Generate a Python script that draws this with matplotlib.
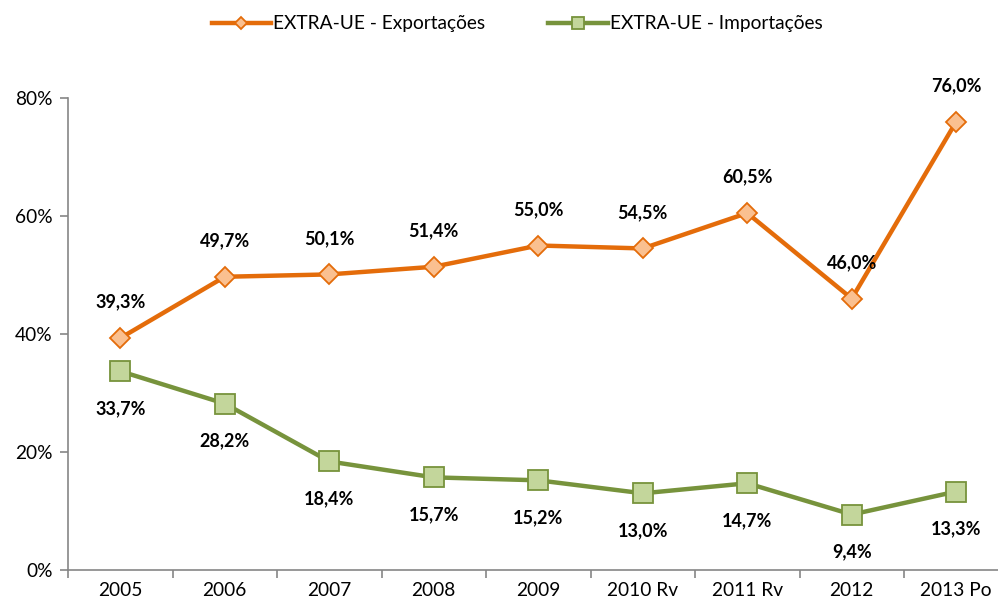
import matplotlib.pyplot as plt
from matplotlib.ticker import FixedLocator, FuncFormatter

anos = ["2005", "2006", "2007", "2008", "2009", "2010 Rv", "2011 Rv", "2012", "2013 Po"]
exportacoes = [39.3, 49.7, 50.1, 51.4, 55.0, 54.5, 60.5, 46.0, 76.0]
importacoes = [33.7, 28.2, 18.4, 15.7, 15.2, 13.0, 14.7, 9.4, 13.3]

plt.rcParams['font.family'] = ['Lato', 'DejaVu Sans']

W, H = 998, 606
fig = plt.figure(figsize=(W / 100, H / 100), dpi=100)
ax = fig.add_axes([68 / W, 36 / H, 940.5 / W, 472 / H])

x = list(range(len(anos)))
ax.plot(x, exportacoes, color='#E46C0A', lw=3.2, marker='D', ms=10,
        mfc='#FAC090', mec='#E46C0A', mew=1.3, label='EXTRA-UE - Exportações', zorder=3)
ax.plot(x, importacoes, color='#77933C', lw=3.2, marker='s', ms=14,
        mfc='#C3D69B', mec='#77933C', mew=1.3, label='EXTRA-UE - Importações', zorder=3)

for i, v in enumerate(exportacoes):
    ax.annotate(f"{v:.1f}%".replace('.', ','), (i, v), xytext=(0, 26), textcoords='offset points',
                ha='center', va='center', fontsize=13, fontweight='bold')
for i, v in enumerate(importacoes):
    ax.annotate(f"{v:.1f}%".replace('.', ','), (i, v), xytext=(0, -27), textcoords='offset points',
                ha='center', va='center', fontsize=13, fontweight='bold')

ax.set_xlim(-0.5, len(anos) - 0.5)
ax.set_ylim(0, 80)
ax.set_yticks([0, 20, 40, 60, 80])
ax.yaxis.set_major_formatter(FuncFormatter(lambda v, p: f"{v:.0f}%"))
ax.set_xticks(x)
ax.set_xticklabels(anos)
ax.xaxis.set_minor_locator(FixedLocator([i + 0.5 for i in range(-1, len(anos))]))
ax.tick_params(axis='x', which='major', length=0, pad=9, labelsize=13.8)
ax.tick_params(axis='x', which='minor', length=6, color='#868686', width=1.2)
ax.tick_params(axis='y', length=6, color='#868686', width=1.2, labelsize=13.8, pad=5)

for s in ['top', 'right']:
    ax.spines[s].set_visible(False)
for s in ['left', 'bottom']:
    ax.spines[s].set_color('#868686')
    ax.spines[s].set_linewidth(1.2)

handles, labels = ax.get_legend_handles_labels()
fig.legend(handles, labels, loc='center', bbox_to_anchor=(517 / W, 1 - 24 / H), ncol=2, frameon=False,
           fontsize=13.8, handlelength=3.1, columnspacing=3.3, handletextpad=0.1, markerscale=0.6)

fig.savefig('out.png', dpi=100)
